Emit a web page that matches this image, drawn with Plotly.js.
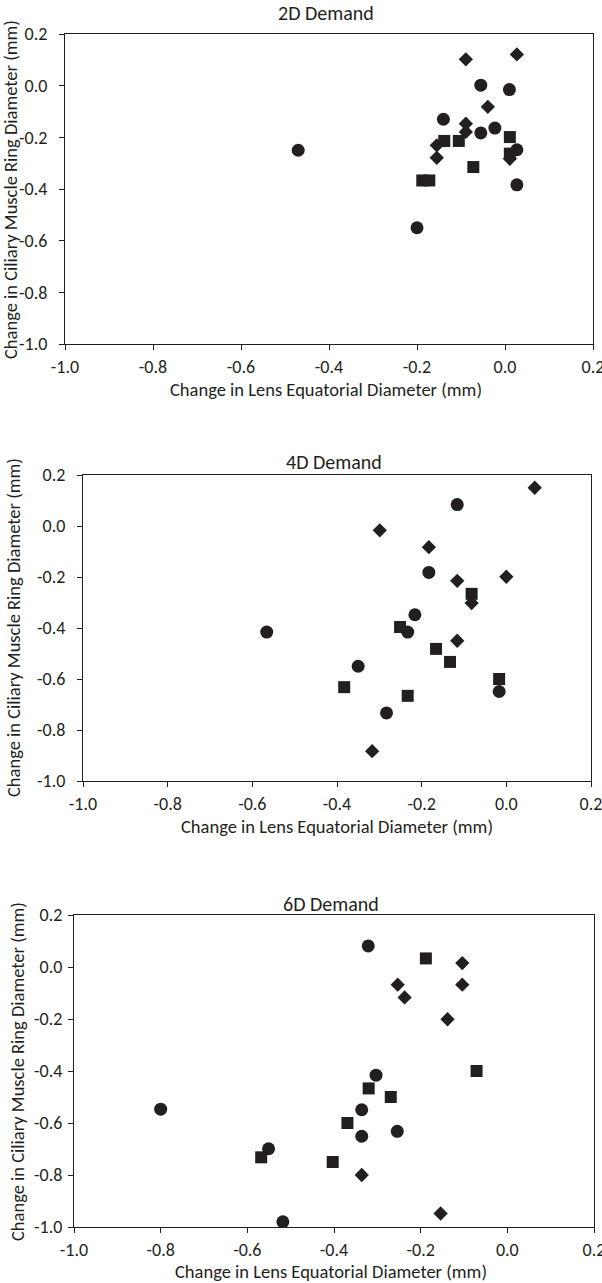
<!DOCTYPE html>
<html>
<head>
<meta charset="utf-8">
<script src="https://cdn.plot.ly/plotly-3.0.1.min.js"></script>
<style>html,body{margin:0;padding:0;background:#fff}#chart{width:602px;height:1283px}</style>
</head>
<body>
<div id="chart"></div>
<script>
// Panel titles
const panelTitles = ["2D Demand", "4D Demand", "6D Demand"];
const xTitle = "Change in Lens Equatorial Diameter (mm)";
const yTitle = "Change in Ciliary Muscle Ring Diameter (mm)";
const tickVals = [-1.0, -0.8, -0.6, -0.4, -0.2, 0.0, 0.2];
const tickText = ["-1.0", "-0.8", "-0.6", "-0.4", "-0.2", "0.0", "0.2"];

// 2D demand
const d2CircleX = [-0.47, -0.20, -0.14, -0.055, 0.010, -0.055, -0.023, 0.027, 0.027];
const d2CircleY = [-0.25, -0.55, -0.13, 0.002, -0.015, -0.183, -0.164, -0.248, -0.384];
const d2SquareX = [-0.188, -0.172, -0.138, -0.105, -0.072, 0.011, 0.011];
const d2SquareY = [-0.367, -0.367, -0.214, -0.214, -0.315, -0.199, -0.263];
const d2DiamondX = [-0.089, 0.027, -0.039, -0.089, -0.089, -0.155, -0.155, 0.011];
const d2DiamondY = [0.102, 0.121, -0.082, -0.147, -0.179, -0.231, -0.279, -0.283];

// 4D demand
const d4CircleX = [-0.116, -0.183, -0.216, -0.566, -0.233, -0.350, -0.017, -0.283];
const d4CircleY = [0.084, -0.182, -0.348, -0.416, -0.416, -0.550, -0.649, -0.733];
const d4SquareX = [-0.082, -0.251, -0.166, -0.133, -0.017, -0.383, -0.233];
const d4SquareY = [-0.266, -0.396, -0.482, -0.533, -0.600, -0.632, -0.666];
const d4DiamondX = [0.067, -0.299, -0.183, -0.116, 0.000, -0.082, -0.116, -0.317];
const d4DiamondY = [0.150, -0.017, -0.083, -0.215, -0.199, -0.302, -0.450, -0.883];

// 6D demand
const d6CircleX = [-0.321, -0.303, -0.336, -0.336, -0.254, -0.551, -0.518, -0.800];
const d6CircleY = [0.081, -0.416, -0.549, -0.651, -0.632, -0.699, -0.980, -0.547];
const d6SquareX = [-0.188, -0.071, -0.320, -0.269, -0.369, -0.568, -0.403];
const d6SquareY = [0.033, -0.400, -0.467, -0.500, -0.600, -0.732, -0.750];
const d6DiamondX = [-0.104, -0.253, -0.104, -0.237, -0.138, -0.336, -0.154];
const d6DiamondY = [0.015, -0.068, -0.068, -0.117, -0.201, -0.800, -0.948];

const W = 602, H = 1283;
const FONT = "Carlito, Lato, 'Open Sans', sans-serif";
const MC = "#231f20";

// pixel boxes [left, right, top, bottom]
const boxes = [
  [65, 593, 34, 344],
  [83, 591, 475, 781],
  [74, 594, 915, 1227]
];
const titleY = [13, 462, 904];
const yLabelPad = [8, 8, 2];
// axis-title anchor positions in pixels
const xTitlePos = [[326, 389], [337, 826], [331, 1271]];
const yTitlePos = [[11, 190], [13, 628], [17, 1072]];

const sets = [
  [d2CircleX, d2CircleY, d2SquareX, d2SquareY, d2DiamondX, d2DiamondY],
  [d4CircleX, d4CircleY, d4SquareX, d4SquareY, d4DiamondX, d4DiamondY],
  [d6CircleX, d6CircleY, d6SquareX, d6SquareY, d6DiamondX, d6DiamondY]
];

const traces = [];
const layout = {
  width: W, height: H,
  margin: {l: 0, r: 0, t: 0, b: 0},
  paper_bgcolor: "#fff", plot_bgcolor: "#fff",
  showlegend: false,
  font: {family: FONT, color: "#231f20"},
  annotations: []
};

sets.forEach((s, i) => {
  const n = i === 0 ? "" : String(i + 1);
  const xa = "x" + n, ya = "y" + n;
  const sym = [["circle", 13], ["square", 12], ["diamond", 11]];
  for (let k = 0; k < 3; k++) {
    traces.push({
      type: "scatter", mode: "markers",
      x: s[2 * k], y: s[2 * k + 1],
      xaxis: xa, yaxis: ya,
      marker: {symbol: sym[k][0], size: sym[k][1], color: MC, line: {width: 0}},
      hoverinfo: "x+y"
    });
  }
  const b = boxes[i];
  layout["xaxis" + n] = {
    domain: [b[0] / W, b[1] / W],
    anchor: ya,
    range: [-1.0, 0.2],
    tickvals: tickVals, ticktext: tickText,
    ticks: "outside", ticklen: 5, tickcolor: "#231f20", tickwidth: 1,
    ticklabelstandoff: 1, ticklabeloverflow: "allow",
    showgrid: false, zeroline: false,
    showline: true, linecolor: "#231f20", linewidth: 1, mirror: true,
    tickfont: {size: 18, family: FONT, color: "#231f20"},
    fixedrange: true
  };
  layout["yaxis" + n] = {
    domain: [1 - b[3] / H, 1 - b[2] / H],
    anchor: xa,
    range: [-1.0, 0.2],
    tickvals: tickVals, ticktext: tickText,
    ticks: "outside", ticklen: 5, tickcolor: "#231f20", tickwidth: 1,
    ticklabelstandoff: yLabelPad[i], ticklabeloverflow: "allow",
    showgrid: false, zeroline: false,
    showline: true, linecolor: "#231f20", linewidth: 1, mirror: true,
    tickfont: {size: 18, family: FONT, color: "#231f20"},
    fixedrange: true
  };
  layout.annotations.push({
    text: panelTitles[i], xref: "paper", yref: "paper",
    x: (b[0] + b[1]) / 2 / W - 0.005, y: 1 - titleY[i] / H,
    xanchor: "center", yanchor: "middle", showarrow: false,
    font: {size: 20, family: FONT, color: "#231f20"}
  });
  layout.annotations.push({
    text: xTitle, xref: "paper", yref: "paper",
    x: xTitlePos[i][0] / W, y: 1 - xTitlePos[i][1] / H,
    xanchor: "center", yanchor: "middle", showarrow: false,
    font: {size: 18.5, family: FONT, color: "#231f20"}
  });
  layout.annotations.push({
    text: yTitle, xref: "paper", yref: "paper", textangle: -90,
    x: yTitlePos[i][0] / W, y: 1 - yTitlePos[i][1] / H,
    xanchor: "center", yanchor: "middle", showarrow: false,
    font: {size: 18.5, family: FONT, color: "#231f20"}
  });
});

Plotly.newPlot("chart", traces, layout, {displayModeBar: false, staticPlot: true});
</script>
</body>
</html>
